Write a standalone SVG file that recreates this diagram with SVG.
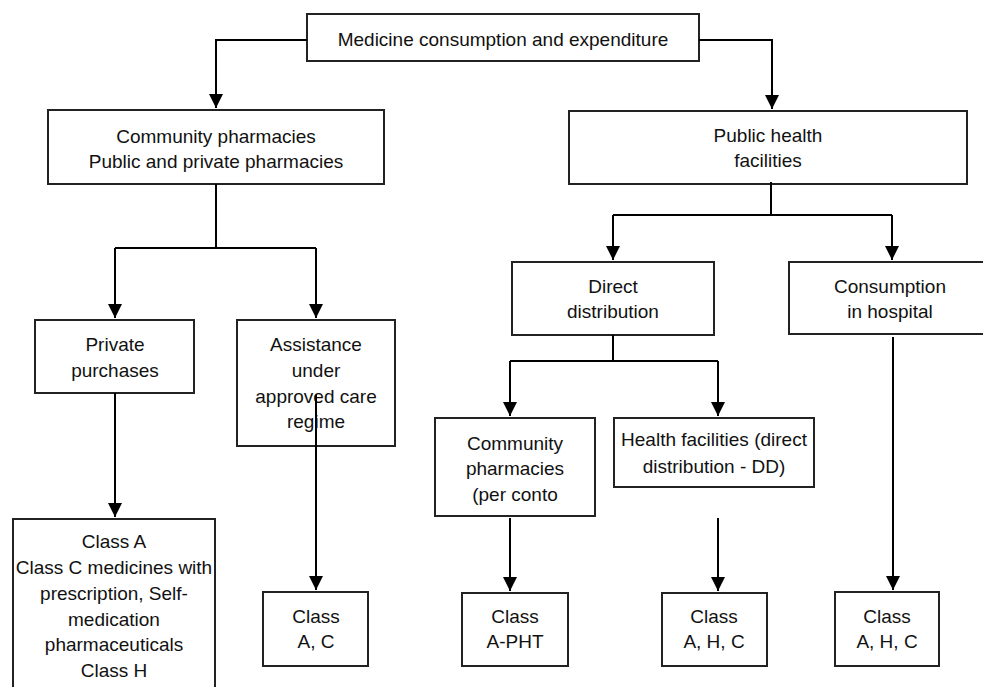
<svg xmlns="http://www.w3.org/2000/svg" width="983" height="687" viewBox="0 0 983 687">
  <defs>
    <marker id="arrow" markerUnits="userSpaceOnUse" markerWidth="14" markerHeight="14" refX="14" refY="7" orient="auto">
      <path d="M0,0 L14,7 L0,14 Z" fill="#000"/>
    </marker>
    <style>
      .box { fill: #fff; stroke: #222; stroke-width: 2; }
      .lbl { font-family: "Liberation Sans", Arial, sans-serif; font-size: 19px; fill: #111; text-anchor: middle; }
      .edge { fill: none; stroke: #000; stroke-width: 2; }
      .arr { marker-end: url(#arrow); }
    </style>
  </defs>
  <rect width="983" height="687" fill="#fff"/>

  <g id="root">
    <rect class="box" x="307" y="14" width="392" height="47"/>
    <text class="lbl" x="503" y="46">Medicine consumption and expenditure</text>
  </g>

  <g id="community">
    <rect class="box" x="48" y="110" width="336" height="74"/>
    <text class="lbl" x="216" y="143">Community pharmacies</text>
    <text class="lbl" x="216" y="168">Public and private pharmacies</text>
  </g>

  <g id="public-health">
    <rect class="box" x="569" y="111" width="398" height="73"/>
    <text class="lbl" x="768" y="142">Public health</text>
    <text class="lbl" x="768" y="167">facilities</text>
  </g>

  <g id="private">
    <rect class="box" x="35" y="320" width="159" height="73"/>
    <text class="lbl" x="115" y="351">Private</text>
    <text class="lbl" x="115" y="377">purchases</text>
  </g>

  <g id="assistance">
    <rect class="box" x="237" y="320" width="158" height="126"/>
    <text class="lbl" x="316" y="351">Assistance</text>
    <text class="lbl" x="316" y="377">under</text>
    <text class="lbl" x="316" y="403">approved care</text>
    <text class="lbl" x="316" y="428">regime</text>
  </g>

  <g id="direct">
    <rect class="box" x="512" y="262" width="202" height="73"/>
    <text class="lbl" x="613" y="293">Direct</text>
    <text class="lbl" x="613" y="318">distribution</text>
  </g>

  <g id="hospital">
    <rect class="box" x="789" y="262" width="210" height="72"/>
    <text class="lbl" x="890" y="293">Consumption</text>
    <text class="lbl" x="890" y="318">in hospital</text>
  </g>

  <g id="per-conto">
    <rect class="box" x="435" y="418" width="160" height="98"/>
    <text class="lbl" x="515" y="450">Community</text>
    <text class="lbl" x="515" y="475">pharmacies</text>
    <text class="lbl" x="515" y="501">(per conto</text>
  </g>

  <g id="dd">
    <rect class="box" x="614" y="418" width="200" height="69"/>
    <text class="lbl" x="714" y="446">Health facilities (direct</text>
    <text class="lbl" x="714" y="473">distribution - DD)</text>
  </g>

  <g id="class-private">
    <rect class="box" x="13" y="519" width="202" height="190"/>
    <text class="lbl" x="114" y="548">Class A</text>
    <text class="lbl" x="114" y="574">Class C medicines with</text>
    <text class="lbl" x="114" y="600">prescription, Self-</text>
    <text class="lbl" x="114" y="626">medication</text>
    <text class="lbl" x="114" y="651">pharmaceuticals</text>
    <text class="lbl" x="114" y="677">Class H</text>
  </g>

  <g id="class-ac">
    <rect class="box" x="263" y="592" width="105" height="74"/>
    <text class="lbl" x="316" y="623">Class</text>
    <text class="lbl" x="316" y="648">A, C</text>
  </g>

  <g id="class-pht">
    <rect class="box" x="462" y="593" width="106" height="73"/>
    <text class="lbl" x="515" y="623">Class</text>
    <text class="lbl" x="515" y="648">A-PHT</text>
  </g>

  <g id="class-dd">
    <rect class="box" x="662" y="593" width="105" height="73"/>
    <text class="lbl" x="714" y="623">Class</text>
    <text class="lbl" x="714" y="648">A, H, C</text>
  </g>

  <g id="class-hospital">
    <rect class="box" x="835" y="592" width="104" height="74"/>
    <text class="lbl" x="887" y="623">Class</text>
    <text class="lbl" x="887" y="648">A, H, C</text>
  </g>

  <g id="connectors">
    <path class="edge arr" d="M307,40 H216 V108"/>
    <path class="edge arr" d="M699,40 H772 V109"/>
    <path class="edge" d="M216,184 V248 M115,248 H316"/>
    <path class="edge arr" d="M115,248 V318"/>
    <path class="edge arr" d="M316,248 V318"/>
    <path class="edge arr" d="M115,393 V517"/>
    <path class="edge arr" d="M316,395 V590"/>
    <path class="edge" d="M771,182 V215 M613,215 H892"/>
    <path class="edge arr" d="M613,215 V260"/>
    <path class="edge arr" d="M892,215 V260"/>
    <path class="edge" d="M613,335 V361 M510,361 H718"/>
    <path class="edge arr" d="M510,361 V416"/>
    <path class="edge arr" d="M718,361 V416"/>
    <path class="edge arr" d="M510,518 V591"/>
    <path class="edge arr" d="M718,518 V591"/>
    <path class="edge arr" d="M893,337 V590"/>
  </g>
</svg>
